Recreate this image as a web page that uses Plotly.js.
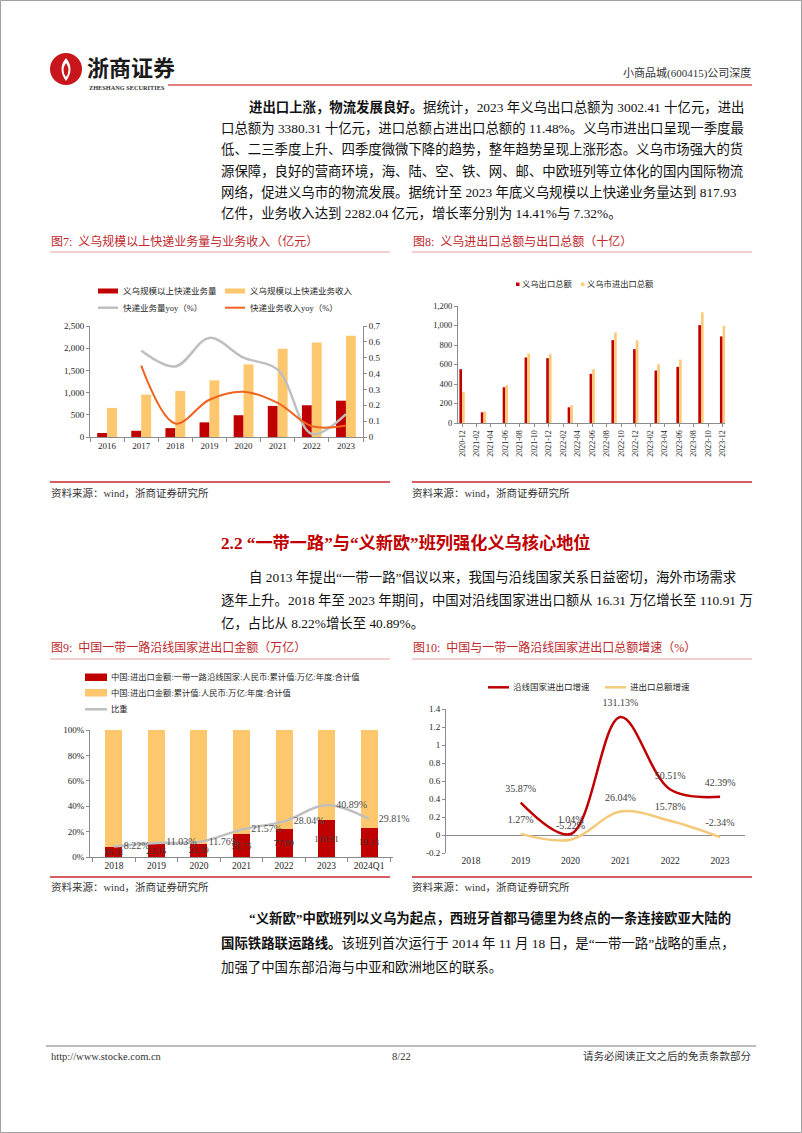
<!DOCTYPE html>
<html><head><meta charset="utf-8">
<script src="https://cdn.plot.ly/plotly-3.0.1.min.js"></script>
<style>
html,body{margin:0;padding:0;background:#fff;overflow:hidden;}
#page{position:relative;width:802px;height:1133px;}
.chart{position:absolute;}
</style></head><body>
<div id="page">
<div id="bg" style="position:absolute;left:0;top:0;width:802px;height:1133px"></div>
<div id="c7" class="chart"></div>
<div id="c8" class="chart"></div>
<div id="c9" class="chart"></div>
<div id="c10" class="chart"></div>
</div>
<script>
// ---------------- DATA ----------------
// Fig 7
const years7 = ['2016','2017','2018','2019','2020','2021','2022','2023'];
const volume7 = [90,140,200,330,490,700,715,817.93];
const revenue7 = [655,955,1035,1275,1635,1990,2126,2282.04];
const volYoy7 = [null,0.545,0.445,0.625,0.50,0.425,0.02,0.1441];
const revYoy7 = [null,0.45,0.085,0.235,0.285,0.215,0.068,0.0732];
const legend7 = ['义乌规模以上快递业务量','义乌规模以上快递业务收入','快递业务量yoy（%）','快递业务收入yoy（%）'];
// Fig 8
const months8 = ['2020-12','2021-03','2021-06','2021-09','2021-12','2022-03','2022-06','2022-09','2022-12','2023-03','2023-06','2023-09','2023-12'];
const export8 = [552,110,367,672,665,161,504,850,758,538,576,1004,888];
const total8 = [319,120,387,713,706,182,552,929,847,603,651,1135,998];
const legend8 = ['义乌出口总额','义乌市进出口总额'];
// Fig 9
const years9 = ['2018','2019','2020','2021','2022','2023','2024Q1'];
const bri9 = [16.31,22.16,22.39,51.75,77.89,110.91,19.13];
const total9 = [198.42,200.94,190.39,239.92,277.78,271.24,64.17];
const share9 = [8.22,11.03,11.76,21.57,28.04,40.89,29.81];
const yTicks9 = [0,20,40,60,80,100];
const yTickText9 = ['0%','20%','40%','60%','80%','100%'];
const legend9 = ['中国:进出口金额:一带一路沿线国家:人民币:累计值:万亿:年度:合计值','中国:进出口金额:累计值:人民币:万亿:年度:合计值','比重'];
// Fig 10
const years10 = ['2018','2019','2020','2021','2022','2023'];
const briGrowth10 = [null,0.3587,0.0104,1.3113,0.5051,0.4239];
const totalGrowth10 = [null,0.0127,-0.0522,0.2604,0.1578,-0.0234];
const yTicks10 = [-0.2,0,0.2,0.4,0.6,0.8,1,1.2,1.4];
const yTickText10 = ['-0.2','0','0.2','0.4','0.6','0.8','1','1.2','1.4'];
const legend10 = ['沿线国家进出口增速','进出口总额增速'];

// ---------------- STYLE ----------------
const FONT = '"Liberation Serif", "Noto Sans CJK SC", serif';
const TXT = '#262626';
const AX = '#8c8c8c';
const RED = '#C00000';
const YEL = '#FDC76E';
const GRAY = '#BFBFBF';
const ORANGE = '#F0621E';
const TITLE_RED = '#C0282D';
const cfg = {staticPlot:true, displayModeBar:false};

// ---------------- BACKGROUND PAGE ----------------
const shapes = [], ann = [];
function ln(x0,y0,x1,y1,color,width){shapes.push({type:'line',xref:'x',yref:'y',x0,y0,x1,y1,line:{color,width}});}
function rc(x0,y0,x1,y1,fill){shapes.push({type:'rect',xref:'x',yref:'y',x0,y0,x1,y1,fillcolor:fill,line:{width:0}});}
function tx(x,y,text,size,color,anchor,bold){ann.push({xref:'x',yref:'y',x,y,text:bold?'<b>'+text+'</b>':text,showarrow:false,xanchor:anchor||'left',yanchor:'middle',font:{family:FONT,size,color},borderpad:0});}

// page border
shapes.push({type:'rect',xref:'x',yref:'y',x0:0.5,y0:0.5,x1:801.5,y1:1132.5,line:{color:'#a0a0a0',width:1}});
// logo
shapes.push({type:'circle',xref:'x',yref:'y',x0:50,y0:53,x1:82,y1:85,fillcolor:'#C8161D',line:{width:0}});
shapes.push({type:'path',xref:'x',yref:'y',path:'M66,58 Q57,69 66,81 Q75,69 66,58 Z',fillcolor:'#ffffff',line:{width:0}});
shapes.push({type:'path',xref:'x',yref:'y',path:'M66,63 Q61,70 66,77 Q71,70 66,63 Z',fillcolor:'#C8161D',line:{width:0}});
tx(86,68,'浙商证券',22,'#1a1a1a','left',true);
tx(88,87,'ZHESHANG SECURITIES',6.3,'#333','left',true);
tx(752,73,'小商品城(600415)公司深度',11,'#333','right');
ln(168,85,752,85,'#C00000',1.2);

// paragraph 1
const BODY = 13.4;
const p1 = [
 [248,'<b>进出口上涨，物流发展良好。</b>据统计，2023 年义乌出口总额为 3002.41 十亿元，进出'],
 [220,'口总额为 3380.31 十亿元，进口总额占进出口总额的 11.48%。义乌市进出口呈现一季度最'],
 [220,'低、二三季度上升、四季度微微下降的趋势，整年趋势呈现上涨形态。义乌市场强大的货'],
 [220,'源保障，良好的营商环境，海、陆、空、铁、网、邮、中欧班列等立体化的国内国际物流'],
 [220,'网络，促进义乌市的物流发展。据统计至 2023 年底义乌规模以上快递业务量达到 817.93'],
 [220,'亿件，业务收入达到 2282.04 亿元，增长率分别为 14.41%与 7.32%。']
];
p1.forEach((l,i)=>tx(l[0],107+i*21.2,l[1],BODY,'#111'));

// figure titles 7 / 8
tx(50,241,'图7:  义乌规模以上快递业务量与业务收入（亿元）',12,TITLE_RED);
tx(412,241,'图8:  义乌进出口总额与出口总额（十亿）',12,TITLE_RED);
ln(50,252,390,252,'#E3A0A0',1);
ln(412,252,752,252,'#E3A0A0',1);

// legend fig 7
rc(98,288.5,118,293.5,RED); tx(122,291,legend7[0],8.5,TXT);
rc(225,288.5,245,293.5,YEL); tx(249,291,legend7[1],8.5,TXT);
ln(98,307.7,118,307.7,GRAY,2.5); tx(122,307.7,legend7[2],8.5,TXT);
ln(225,307.7,245,307.7,ORANGE,2); tx(249,307.7,legend7[3],8.5,TXT);
// legend fig 8
rc(516,282.5,519.5,286,RED); tx(521,284.3,legend8[0],8.3,TXT);
rc(581,282.5,584.5,286,'#FDCB77'); tx(586,284.3,legend8[1],8.3,TXT);

// sources
ln(50,482,390,482,'#C8282D',1.5);
ln(412,482,752,482,'#C8282D',1.5);
tx(50,493,'资料来源：wind，浙商证券研究所',10.5,'#333');
tx(411,493,'资料来源：wind，浙商证券研究所',10.5,'#333');

// section 2.2
tx(220,543,'<b>2.2 “一带一路”与“义新欧”班列强化义乌核心地位</b>',17.2,'#C00000');
const p2 = [
 [248,'自 2013 年提出“一带一路”倡议以来，我国与沿线国家关系日益密切，海外市场需求'],
 [220,'逐年上升。2018 年至 2023 年期间，中国对沿线国家进出口额从 16.31 万亿增长至 110.91 万'],
 [220,'亿，占比从 8.22%增长至 40.89%。']
];
p2.forEach((l,i)=>tx(l[0],577+i*23,l[1],BODY,'#111'));

// figure titles 9 / 10
tx(50,647,'图9:  中国一带一路沿线国家进出口金额（万亿）',12,TITLE_RED);
tx(412,647,'图10:  中国与一带一路沿线国家进出口总额增速（%）',12,TITLE_RED);
ln(50,659,390,659,'#E3A0A0',1);
ln(412,659,752,659,'#E3A0A0',1);

// legend fig 9
rc(85,673.5,107,681,RED); tx(110,677.3,legend9[0],8.3,TXT);
rc(85,689,107,696.5,YEL); tx(110,692.7,legend9[1],8.3,TXT);
ln(85,709.3,107,709.3,GRAY,2.5); tx(110,709.3,legend9[2],8.3,TXT);
// legend fig 10
ln(488,687.3,509,687.3,RED,2.5); tx(512,687.3,legend10[0],8.5,TXT);
ln(605,687.3,626,687.3,'#F5C97A',2.5); tx(629,687.3,legend10[1],8.5,TXT);

// sources 2
ln(50,877,390,877,'#C8282D',1.5);
ln(412,877,752,877,'#C8282D',1.5);
tx(50,887,'资料来源：wind，浙商证券研究所',10.5,'#333');
tx(411,887,'资料来源：wind，浙商证券研究所',10.5,'#333');

// paragraph 3
const p3 = [
 [248,'<b>“义新欧”中欧班列以义乌为起点，西班牙首都马德里为终点的一条连接欧亚大陆的</b>'],
 [220,'<b>国际铁路联运路线。</b>该班列首次运行于 2014 年 11 月 18 日，是“一带一路”战略的重点，'],
 [220,'加强了中国东部沿海与中亚和欧洲地区的联系。']
];
p3.forEach((l,i)=>tx(l[0],918+i*24.5,l[1],BODY,'#111'));

// footer
ln(46,1046,756,1046,'#555',0.8);
tx(50,1056,'http://www.stocke.com.cn',10.5,'#333');
tx(401,1056,'8/22',10.5,'#333','center');
tx(752,1056,'请务必阅读正文之后的免责条款部分',10.5,'#333','right');

Plotly.newPlot('bg',[],{
  width:802,height:1133,margin:{l:0,r:0,t:0,b:0,pad:0},
  paper_bgcolor:'#fff',plot_bgcolor:'#fff',showlegend:false,
  xaxis:{range:[0,802],visible:false,fixedrange:true},
  yaxis:{range:[1133,0],visible:false,fixedrange:true},
  shapes:shapes,annotations:ann
},cfg);

// ---------------- CHART HELPERS ----------------
function place(id,box,plot){
  const d=document.getElementById(id);
  d.style.left=box[0]+'px'; d.style.top=box[1]+'px';
  d.style.width=(box[2]-box[0])+'px'; d.style.height=(box[3]-box[1])+'px';
  return {width:box[2]-box[0],height:box[3]-box[1],
    margin:{l:plot[0]-box[0],t:plot[1]-box[1],r:box[2]-plot[2],b:box[3]-plot[3],pad:0},
    paper_bgcolor:'rgba(0,0,0,0)',plot_bgcolor:'rgba(0,0,0,0)',showlegend:false};
}
function axisBase(size){
  return {showline:true,linecolor:AX,linewidth:1,ticks:'outside',tickcolor:AX,ticklen:3,
    showgrid:false,zeroline:false,fixedrange:true,tickfont:{family:FONT,size:size,color:TXT}};
}

// ---------------- FIG 7 ----------------
(function(){
  const L = place('c7',[40,316,400,466],[90,326,363,437]);
  L.barmode='group'; L.bargap=0.42; L.bargroupgap=0;
  L.xaxis=Object.assign(axisBase(9),{type:'category',tickson:'boundaries',ticklen:4});
  L.yaxis=Object.assign(axisBase(9),{range:[0,2500],dtick:500,tickformat:',d'});
  L.yaxis2=Object.assign(axisBase(9),{range:[0,0.7],dtick:0.1,overlaying:'y',side:'right',anchor:'x'});
  const tr=[
    {type:'bar',x:years7,y:volume7,name:legend7[0],marker:{color:RED}},
    {type:'bar',x:years7,y:revenue7,name:legend7[1],marker:{color:YEL}},
    {type:'scatter',mode:'lines',x:years7,y:volYoy7,name:legend7[2],yaxis:'y2',line:{color:GRAY,width:2.5,shape:'spline',smoothing:1}},
    {type:'scatter',mode:'lines',x:years7,y:revYoy7,name:legend7[3],yaxis:'y2',line:{color:ORANGE,width:2,shape:'spline',smoothing:1}}
  ];
  Plotly.newPlot('c7',tr,L,cfg);
})();

// ---------------- FIG 8 ----------------
(function(){
  const L = place('c8',[405,296,760,476],[458,306,725,423]);
  L.barmode='group'; L.bargap=0.75; L.bargroupgap=0;
  L.xaxis=Object.assign(axisBase(8),{type:'date',range:['2020-11-14','2023-12-11'],tick0:'2020-12-01',dtick:'M2',tickformat:'%Y-%m',tickangle:-90});
  L.yaxis=Object.assign(axisBase(8.5),{range:[0,1200],dtick:200,tickformat:',d'});
  const tr=[
    {type:'bar',x:months8,y:export8,name:legend8[0],marker:{color:RED}},
    {type:'bar',x:months8,y:total8,name:legend8[1],marker:{color:'#FDCB77'}}
  ];
  Plotly.newPlot('c8',tr,L,cfg);
})();

// ---------------- FIG 9 ----------------
(function(){
  const L = place('c9',[40,720,420,878],[90,730,393,857]);
  L.barmode='stack'; L.barnorm='percent'; L.bargap=0.6;
  L.xaxis=Object.assign(axisBase(9.5),{type:'category',tickson:'boundaries',ticklen:4});
  L.yaxis=Object.assign(axisBase(9),{range:[0,100],tickvals:yTicks9,ticktext:yTickText9});
  const tr=[
    {type:'bar',x:years9,y:bri9,name:legend9[0],marker:{color:RED},
      text:bri9.map(v=>v.toFixed(2)),textposition:'inside',insidetextanchor:'middle',constraintext:'none',textangle:0,
      textfont:{family:FONT,size:9,color:'#3a3a3a'}},
    {type:'bar',x:years9,y:total9,name:legend9[1],marker:{color:YEL},textposition:'none'},
    {type:'scatter',mode:'lines+markers+text',x:years9,y:share9,name:legend9[2],
      line:{color:GRAY,width:2.5,shape:'spline',smoothing:1},marker:{size:14,opacity:0},
      text:share9.map(v=>v.toFixed(2)+'%'),textposition:'middle right',cliponaxis:false,
      textfont:{family:FONT,size:10,color:'#4d4d4d'}}
  ];
  Plotly.newPlot('c9',tr,L,cfg);
})();

// ---------------- FIG 10 ----------------
(function(){
  const L = place('c10',[405,680,770,876],[446,709,745,853]);
  L.xaxis=Object.assign(axisBase(9.5),{type:'category',showline:false,ticks:'',range:[-0.5,5.5]});
  L.yaxis=Object.assign(axisBase(9),{range:[-0.2,1.4],tickvals:yTicks10,ticktext:yTickText10,zeroline:true,zerolinecolor:AX,zerolinewidth:1});
  const tr=[
    {type:'scatter',mode:'lines+markers+text',x:years10,y:briGrowth10,name:legend10[0],
      line:{color:RED,width:2.5,shape:'spline',smoothing:1},marker:{size:12,opacity:0},
      text:briGrowth10.map(v=>v===null?'':(v*100).toFixed(2)+'%'),textposition:'top center',cliponaxis:false,
      textfont:{family:FONT,size:10,color:'#404040'}},
    {type:'scatter',mode:'lines+markers+text',x:years10,y:totalGrowth10,name:legend10[1],
      line:{color:'#F5C97A',width:2.5,shape:'spline',smoothing:1},marker:{size:12,opacity:0},
      text:totalGrowth10.map(v=>v===null?'':(v*100).toFixed(2)+'%'),textposition:'top center',cliponaxis:false,
      textfont:{family:FONT,size:10,color:'#404040'}}
  ];
  Plotly.newPlot('c10',tr,L,cfg);
})();
</script>
</body></html>
